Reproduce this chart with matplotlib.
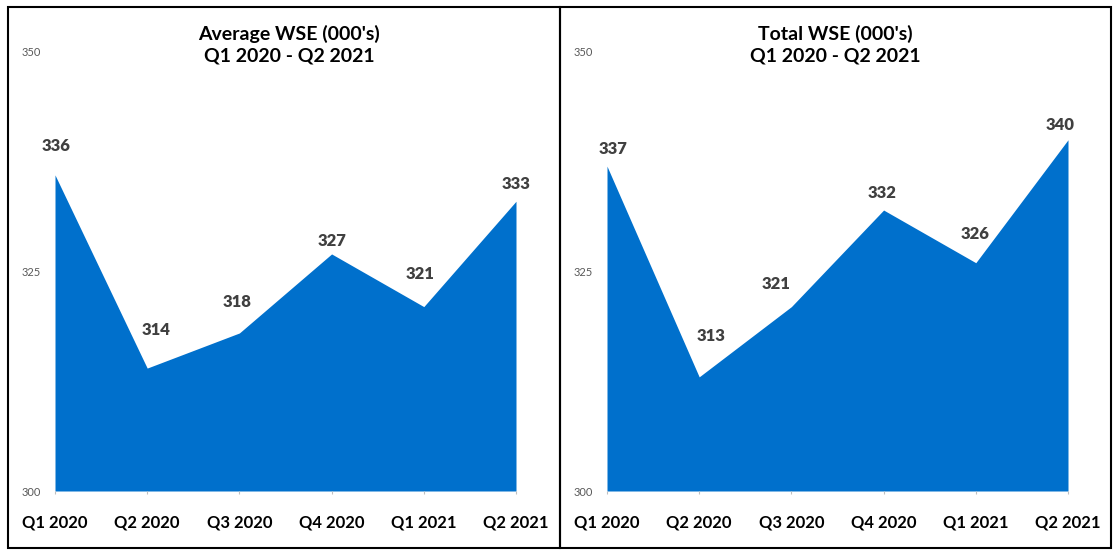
import matplotlib.pyplot as plt
from matplotlib.patches import Rectangle

quarters = ["Q1 2020", "Q2 2020", "Q3 2020", "Q4 2020", "Q1 2021", "Q2 2021"]
avg_wse = [336, 314, 318, 327, 321, 333]
total_wse = [337, 313, 321, 332, 326, 340]
titles = ["Average WSE (000's)\nQ1 2020 - Q2 2021", "Total WSE (000's)\nQ1 2020 - Q2 2021"]
yticks = [300, 325, 350]

# Versatz der Beschriftungen (Pixel) wie im Original
avg_offsets = [(1, 29), (9, 38), (-2, 31), (0, 13), (-4, 33), (0, 17)]
total_offsets = [(6, 17), (12, 41), (-15, 23), (-2, 17), (-1, 29), (-8, 15)]

W, H = 1119, 556
fig = plt.figure(figsize=(W / 100, H / 100), dpi=100)
plt.rcParams['font.family'] = ['Lato', 'DejaVu Sans']

blue = "#0070CC"

# Rahmen um beide Diagramme
for x0, x1 in [(8, 560), (560, 1111)]:
    fig.patches.append(Rectangle((x0 / W, 1 - 548 / H), (x1 - x0) / W, (548 - 7) / H,
                                 transform=fig.transFigure, fill=False,
                                 edgecolor="black", linewidth=1.5))

panels = [(55, 516, avg_wse, avg_offsets, titles[0], 289),
          (607, 1068, total_wse, total_offsets, titles[1], 835)]
for left, right, values, offsets, title, tx in panels:
    ax = fig.add_axes([left / W, 1 - 491 / H, (right - left) / W, (491 - 52) / H])
    xs = range(len(quarters))
    ax.fill_between(xs, values, 300, color=blue, linewidth=0)
    ax.set_xlim(0, len(quarters) - 1)
    ax.set_ylim(300, 350)
    ax.set_yticks(yticks)
    ax.set_yticklabels([str(t) for t in yticks], fontsize=8, color="#595959")
    ax.set_xticks(list(xs))
    ax.set_xticklabels(quarters, fontsize=12, fontweight="bold", color="black")
    ax.tick_params(axis="y", length=0, pad=10)
    ax.tick_params(axis="x", length=2, color="#BFBFBF", pad=15, direction="out")
    for s in ax.spines.values():
        s.set_visible(False)
    for i, v in enumerate(values):
        dx, dy = offsets[i]
        ax.annotate(str(v), (i, v), xytext=(dx * 0.72, dy * 0.72), textcoords="offset points",
                    ha="center", va="center", fontsize=12, fontweight="heavy",
                    color="#404040")
    fig.text(tx / W, 1 - 45 / H, title, ha="center", va="center",
             fontsize=14, fontweight="bold", linespacing=1.3)

fig.savefig("out.png", dpi=100)
